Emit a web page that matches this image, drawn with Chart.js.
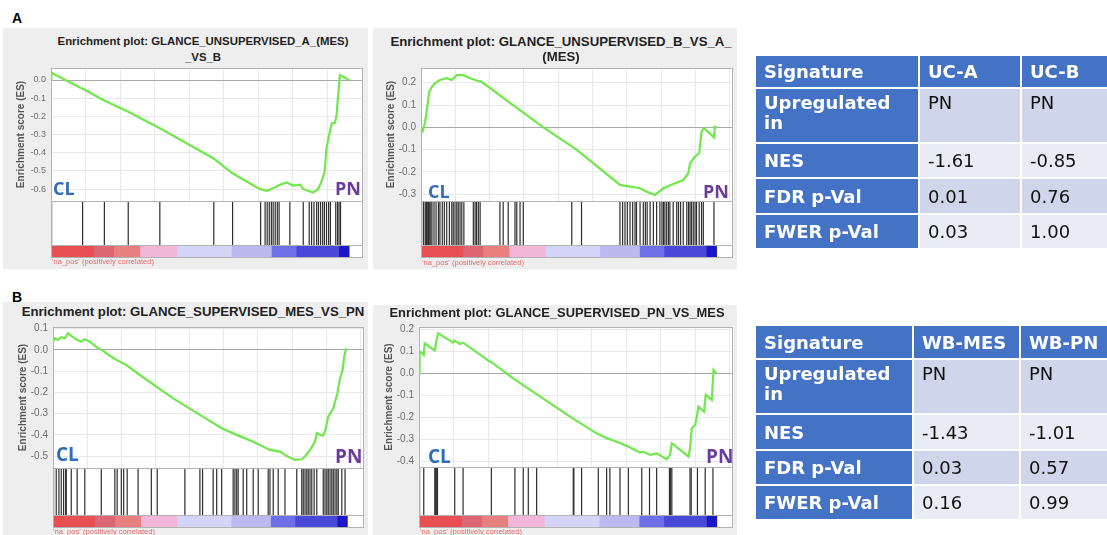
<!DOCTYPE html>
<html>
<head>
<meta charset="utf-8">
<script src="https://cdn.jsdelivr.net/npm/chart.js@4.4.1/dist/chart.umd.min.js"></script>
<style>
body { margin:0; width:1107px; height:535px; background:#fff; position:relative; overflow:hidden; font-family:"Liberation Sans", Arial, sans-serif; }
canvas { position:absolute; }
.panel { position:absolute; background:#eeeeee; }
.plotbg { position:absolute; background:#fff; }
.frame { position:absolute; border:1px solid #b3b3b3; box-sizing:border-box; }
.hline { position:absolute; height:1px; background:#b3b3b3; }
.ttl { position:absolute; width:420px; text-align:center; font-weight:bold; color:#222; white-space:nowrap; line-height:1; }
.grp { position:absolute; font-family:"Open Sans"; font-weight:bold; line-height:1; }
.na { position:absolute; font-size:7.6px; line-height:1; color:#e06b6b; white-space:nowrap; }
.letter { position:absolute; font-weight:bold; font-size:14px; line-height:1; color:#000; }
table { position:absolute; border-collapse:collapse; font-family:"DejaVu Sans", Verdana, sans-serif; font-size:18px; table-layout:fixed; }
td { border:2px solid #fff; padding:0 0 0 8px; color:#111; overflow:hidden; white-space:nowrap; }
td.h { background:#4472c4; color:#fff; font-weight:bold; }
td.d { background:#cfd5ea; }
td.l { background:#e9ebf5; }
tr.up td { vertical-align:top; padding-top:4px; line-height:1.1; }
</style>
</head>
<body>
<script>
// ranked-list position in % of the list, enrichment score
const esA1x = [0, 0.1, 10.3, 10.9, 17.5, 25.9, 36.5, 54.4, 60.6, 70.1, 72.3, 74.5, 76.8, 79.0, 81.2, 83.5, 84.6, 87.9, 89.6, 90.7, 91.8, 92.4, 93.3, 94.2, 95.2, 95.8, 96.3, 96.9, 100]
const esA1y = [0, 0.04, -0.046, -0.05, -0.11, -0.174, -0.265, -0.43, -0.51, -0.60, -0.609, -0.595, -0.576, -0.563, -0.58, -0.575, -0.60, -0.618, -0.60, -0.558, -0.503, -0.375, -0.30, -0.238, -0.235, -0.19, -0.082, 0.027, 0]
const hitsA1 = [0.2, 10.6, 17.9, 25.9, 36.5, 54.6, 60.9, 70.3, 71.8, 72.5, 73.2, 73.9, 74.5, 75.2, 75.9, 76.5, 80.1, 84.6, 86.6, 87.4, 88.2, 89.1, 89.7, 90.4, 91.1, 91.7, 92.4, 93.1, 93.7, 95.5, 96.1, 96.6, 97.1]

const esA2x = [0, 0.6, 1.4, 2.1, 2.8, 3.6, 4.7, 6.4, 8.7, 10.4, 12.1, 14.3, 16.6, 18.8, 20.5, 30.1, 41.4, 52.6, 67.3, 74.1, 76.3, 79.1, 82.0, 85.3, 88.7, 90.4, 91.0, 92.7, 94.1, 94.9, 95.7, 99.1, 99.4, 100]
const esA2y = [0, -0.015, 0.025, 0.09, 0.16, 0.18, 0.197, 0.212, 0.22, 0.212, 0.234, 0.234, 0.22, 0.21, 0.204, 0.11, 0, -0.10, -0.258, -0.273, -0.288, -0.303, -0.273, -0.254, -0.236, -0.206, -0.161, -0.131, -0.116, -0.019, -0.004, -0.045, 0.003, 0]
const hitsA2 = [0.8, 1.4, 1.7, 1.9, 2.1, 2.5, 2.8, 3.3, 3.7, 4.4, 5.1, 5.9, 6.4, 7.2, 7.9, 8.7, 9.6, 10.4, 10.9, 11.5, 12.1, 12.6, 13.2, 13.8, 14.5, 17.7, 18.3, 18.8, 19.4, 20.0, 26.7, 27.8, 29.5, 31.8, 32.4, 33.5, 34.6, 51.0, 54.3, 67.3, 68.2, 69.0, 69.8, 70.7, 71.6, 72.4, 72.9, 74.1, 75.2, 75.9, 76.5, 77.5, 78.6, 79.7, 80.8, 81.5, 82.0, 82.5, 83.1, 83.7, 84.2, 85.3, 86.5, 87.1, 87.8, 88.7, 89.9, 90.5, 91.0, 91.5, 92.1, 92.7, 93.2, 94.1, 94.9, 95.5, 99.1]

const esB1x = [0, 0.6, 1.7, 2.8, 4.0, 5.1, 6.2, 7.9, 9.6, 10.8, 12.5, 15.3, 17.0, 18.1, 21.5, 24.9, 29.5, 40.8, 49.9, 57.3, 62.4, 68.0, 73.7, 77.1, 79.4, 82.2, 84.5, 85.6, 87.3, 89.0, 89.6, 91.6, 92.4, 93.5, 95.2, 96.6, 97.5, 98.4, 98.9, 99.5, 100]
const esB1y = [0.039, 0.055, 0.047, 0.06, 0.055, 0.078, 0.066, 0.05, 0.039, 0.05, 0.039, 0.008, -0.003, -0.016, -0.047, -0.071, -0.118, -0.228, -0.306, -0.369, -0.40, -0.432, -0.471, -0.479, -0.50, -0.518, -0.515, -0.502, -0.471, -0.432, -0.392, -0.405, -0.385, -0.314, -0.275, -0.204, -0.133, -0.094, -0.031, 0.003, 0]
const hitsB1 = [0.2, 1.1, 2.0, 2.8, 3.6, 4.3, 4.5, 6.2, 8.2, 10.8, 16.4, 21.0, 21.8, 23.2, 24.0, 25.2, 28.9, 33.4, 35.4, 44.8, 49.9, 50.8, 54.4, 55.6, 57.3, 61.2, 61.8, 62.4, 62.9, 64.6, 65.8, 68.0, 69.7, 73.1, 73.7, 74.8, 76.5, 78.8, 82.8, 84.5, 85.0, 85.6, 86.2, 86.7, 87.3, 87.9, 88.7, 89.6, 91.8, 92.4, 93.0, 93.5, 94.1, 94.7, 95.2, 95.8, 96.4, 96.9, 98.1, 99.2]

const esB2x = [0, 0.2, 1.1, 1.6, 1.9, 4.7, 5.3, 5.8, 6.4, 11.4, 12.0, 13.7, 14.8, 23.8, 24.9, 31.6, 50.7, 59.6, 63.0, 66.4, 69.7, 74.2, 75.3, 77.6, 79.8, 83.2, 84.3, 84.9, 90.5, 91.0, 91.6, 92.7, 93.3, 93.8, 95.7, 96.3, 98.3, 98.9, 99.8]
const esB2y = [0, 0.098, 0.091, 0.083, 0.136, 0.109, 0.103, 0.144, 0.182, 0.139, 0.148, 0.133, 0.139, 0.053, 0.045, -0.023, -0.197, -0.273, -0.295, -0.311, -0.33, -0.36, -0.356, -0.371, -0.364, -0.391, -0.371, -0.318, -0.379, -0.341, -0.25, -0.235, -0.197, -0.152, -0.174, -0.098, -0.121, 0.015, 0]
const hitsB2 = [0.2, 1.6, 5.3, 5.6, 5.8, 6.2, 12.0, 14.8, 24.3, 32.2, 35.0, 36.7, 39.5, 51.8, 52.0, 54.6, 60.2, 63.0, 64.1, 67.5, 70.3, 74.8, 77.4, 79.8, 84.1, 84.5, 84.9, 91.0, 91.4, 93.5, 96.1, 98.7]

// ranked list metric colour bar: segment edges (% of list) and colours
const rankEdges = [0, 14.2, 21.0, 29.8, 42.1, 60.5, 73.9, 82.2, 96.5, 100]
const rankColors = ['#e84f52', '#dd6673', '#e8807f', '#f1b6d8', '#d4d5f6', '#babaf0', '#6e6fe8', '#4a48d8', '#1c17c6']

const tableA = [
  ['Signature', 'UC-A', 'UC-B'],
  ['Upregulated<br>in', 'PN', 'PN'],
  ['NES', '-1.61', '-0.85'],
  ['FDR p-Val', '0.01', '0.76'],
  ['FWER p-Val', '0.03', '1.00'],
]
const tableB = [
  ['Signature', 'WB-MES', 'WB-PN'],
  ['Upregulated<br>in', 'PN', 'PN'],
  ['NES', '-1.43', '-1.01'],
  ['FDR p-Val', '0.03', '0.57'],
  ['FWER p-Val', '0.16', '0.99'],
]

const plots = [
  { x: esA1x, y: esA1y, hits: hitsA1, L: 51, R: 362, T: 68, B: 201, H: 245, C: 257, yMin: -0.665, yMax: 0.066, xMax: 104.3,
    panel: [3, 28, 365, 241], title: ['Enrichment plot: GLANCE_UNSUPERVISED_A_(MES)', '_VS_B'], tSize: 11.4, tx: 203, ty: 42, tdy: 16,
    tick: 9, cl: [53, 179], pn: [335, 179], gSize: 18, na: [52, 258] },
  { x: esA2x, y: esA2y, hits: hitsA2, L: 421, R: 732, T: 68, B: 201, H: 245, C: 257, yMin: -0.33, yMax: 0.266, xMax: 105.2,
    panel: [373, 28, 364, 241], title: ['Enrichment plot: GLANCE_UNSUPERVISED_B_VS_A_', '(MES)'], tSize: 13.2, tx: 561, ty: 42, tdy: 15,
    tick: 10, cl: [428, 182], pn: [703, 182], gSize: 18, na: [422, 259] },
  { x: esB1x, y: esB1y, hits: hitsB1, L: 53, R: 363, T: 327, B: 468, H: 515, C: 527, yMin: -0.556, yMax: 0.108, xMax: 105.3,
    panel: [3, 302, 365, 233], title: ['Enrichment plot: GLANCE_SUPERVISED_MES_VS_PN'], tSize: 13.2, tx: 193, ty: 312, tdy: 0,
    tick: 10, cl: [56, 445], pn: [335, 447], gSize: 19, na: [53, 528] },
  { x: esB2x, y: esB2y, hits: hitsB2, L: 419, R: 732, T: 327, B: 467, H: 515, C: 527, yMin: -0.426, yMax: 0.21, xMax: 105.1,
    panel: [373, 305, 364, 230], title: ['Enrichment plot: GLANCE_SUPERVISED_PN_VS_MES'], tSize: 12.9, tx: 557, ty: 313, tdy: 0,
    tick: 10, cl: [428, 447], pn: [706, 447], gSize: 19, na: [420, 528] },
]

function el(tag, cls, css, html) {
  const e = document.createElement(tag)
  if (cls) e.className = cls
  Object.assign(e.style, css)
  if (html !== undefined) e.innerHTML = html
  document.body.appendChild(e)
  return e
}

function canvasAt(left, top, w, h) {
  const c = el('canvas', '', { left: left + 'px', top: top + 'px' })
  c.width = w
  c.height = h
  return c
}

const AXW = 36
const PADV = 8
const noPlugins = { legend: { display: false }, tooltip: { enabled: false } }

function drawPlot(p) {
  el('div', 'panel', { left: p.panel[0] + 'px', top: p.panel[1] + 'px', width: p.panel[2] + 'px', height: p.panel[3] + 'px' })
  el('div', 'plotbg', { left: p.L + 'px', top: p.T + 'px', width: (p.R - p.L) + 'px', height: (p.C - p.T) + 'px' })

  p.title.forEach((t, i) => {
    el('div', 'ttl', { left: (p.tx - 210) + 'px', top: (p.ty + i * p.tdy - p.tSize * 0.5) + 'px', fontSize: p.tSize + 'px' }, t)
  })

  // running enrichment score
  const es = canvasAt(p.L - AXW, p.T - PADV, p.R - p.L + AXW, p.B - p.T + 2 * PADV)
  new Chart(es, {
    type: 'line',
    data: { datasets: [{ data: p.x.map((v, i) => ({ x: v, y: p.y[i] })), borderColor: '#70e84c', borderWidth: 2.2, pointRadius: 0, tension: 0 }] },
    options: {
      responsive: false, animation: false, events: [],
      layout: { padding: { top: PADV, bottom: PADV, left: 0, right: 0 } },
      plugins: noPlugins,
      scales: {
        x: {
          type: 'linear', min: 0, max: p.xMax,
          ticks: { display: false, stepSize: 11.6, includeBounds: false },
          grid: { color: '#e8e8e8', drawTicks: false }, border: { display: false },
          afterFit: s => { s.height = 0; s.paddingLeft = 0; s.paddingRight = 0 },
        },
        y: {
          min: p.yMin, max: p.yMax,
          ticks: { stepSize: 0.1, includeBounds: false, color: '#6e6e6e', padding: 5, font: { size: p.tick, family: 'Liberation Sans' }, callback: v => v.toFixed(1) },
          grid: { color: c => Math.abs(c.tick.value) < 1e-6 ? '#a8a8a8' : '#e8e8e8', drawTicks: false }, border: { display: false },
          title: { display: true, text: 'Enrichment score (ES)', color: '#555', padding: 0, font: { size: 10, weight: 'bold', family: 'Liberation Sans' } },
          afterFit: s => { s.width = AXW; s.paddingTop = 0; s.paddingBottom = 0 },
        },
      },
    },
  })

  // gene set hits
  const hc = canvasAt(p.L, p.B, p.R - p.L, p.H - p.B)
  new Chart(hc, {
    type: 'bar',
    data: { datasets: [{ data: p.hits.map(v => ({ x: v, y: 1 })), backgroundColor: '#2e2e2e', barThickness: 1.2, inflateAmount: 0 }] },
    options: {
      responsive: false, animation: false, events: [], plugins: noPlugins,
      layout: { padding: 0 },
      scales: {
        x: { type: 'linear', min: 0, max: p.xMax, offset: false, display: false },
        y: { min: 0, max: 1, display: false },
      },
    },
  })

  // ranked list colour bar
  const cc = canvasAt(p.L, p.H, p.R - p.L, p.C - p.H)
  new Chart(cc, {
    type: 'bar',
    data: {
      labels: ['rank'],
      datasets: rankColors.map((col, i) => ({ data: [[rankEdges[i], rankEdges[i + 1]]], backgroundColor: col, grouped: false, barPercentage: 1, categoryPercentage: 1 })),
    },
    options: {
      indexAxis: 'y', responsive: false, animation: false, events: [], plugins: noPlugins,
      layout: { padding: 0 },
      scales: {
        x: { type: 'linear', min: 0, max: p.xMax, offset: false, display: false },
        y: { display: false },
      },
    },
  })

  el('div', 'frame', { left: p.L + 'px', top: p.T + 'px', width: (p.R - p.L + 1) + 'px', height: (p.C - p.T + 1) + 'px' })
  el('div', 'hline', { left: p.L + 'px', top: p.B + 'px', width: (p.R - p.L) + 'px' })
  el('div', 'hline', { left: p.L + 'px', top: p.H + 'px', width: (p.R - p.L) + 'px' })

  el('div', 'grp', { left: p.cl[0] + 'px', top: p.cl[1] + 'px', fontSize: p.gSize + 'px', color: '#2f6db4' }, 'CL')
  el('div', 'grp', { left: p.pn[0] + 'px', top: p.pn[1] + 'px', fontSize: p.gSize + 'px', color: '#6a3d9d' }, 'PN')
  el('div', 'na', { left: p.na[0] + 'px', top: p.na[1] + 'px' }, "'na_pos' (positively correlated)")
}

plots.forEach(drawPlot)

el('div', 'letter', { left: '12px', top: '11px' }, 'A')
el('div', 'letter', { left: '12px', top: '290px' }, 'B')

function drawTable(rows, left, top, cols, heights) {
  const t = el('table', '', { left: left + 'px', top: top + 'px', width: cols.reduce((a, b) => a + b, 0) + 'px' })
  const cg = document.createElement('colgroup')
  cols.forEach(w => { const c = document.createElement('col'); c.style.width = w + 'px'; cg.appendChild(c) })
  t.appendChild(cg)
  rows.forEach((r, i) => {
    const tr = document.createElement('tr')
    if (i === 1) tr.className = 'up'
    tr.style.height = heights[i] + 'px'
    r.forEach((v, j) => {
      const td = document.createElement('td')
      td.className = (i === 0 || j === 0) ? 'h' : (i % 2 === 1 ? 'd' : 'l')
      td.innerHTML = v
      tr.appendChild(td)
    })
    t.appendChild(tr)
  })
}

drawTable(tableA, 754, 54, [164, 102, 100], [33, 55, 35, 36, 35])
drawTable(tableB, 754, 324, [158, 107, 100], [34, 55, 36, 35, 35])
</script>
</body>
</html>
